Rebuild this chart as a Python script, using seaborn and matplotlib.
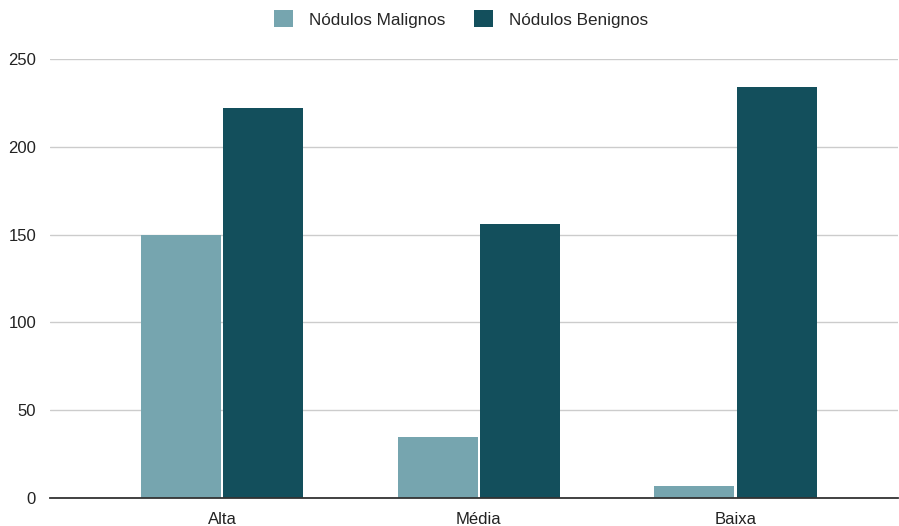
import pandas as pd
import seaborn as sns
import matplotlib.pyplot as plt

# data
categorias = ['Alta', 'Média', 'Baixa']
malignos = [150, 35, 7]
benignos = [222, 156, 234]
series = ['Nódulos Malignos', 'Nódulos Benignos']
cores = ['#76A5AF', '#134F5C']

df = pd.DataFrame({
    'categoria': categorias * 2,
    'valor': malignos + benignos,
    'serie': [series[0]] * len(categorias) + [series[1]] * len(categorias),
})

sns.set_style('white')
plt.rcParams['font.family'] = ['Liberation Sans', 'DejaVu Sans']

fig = plt.figure(figsize=(8.99, 5.26), dpi=100)
ax = fig.add_axes([50 / 899, (526 - 498) / 526, 848 / 899, (498 - 59) / 526])

sns.barplot(data=df, x='categoria', y='valor', hue='serie', palette=cores,
            width=0.64, gap=0.025, saturation=1, ax=ax, linewidth=0)

ax.set_ylim(0, 250)
ax.set_xlim(-0.67, 2.633)
ax.set_yticks([0, 50, 100, 150, 200, 250])
ax.yaxis.grid(True, color='#CCCCCC', linewidth=1)
ax.set_axisbelow(True)
for s in ['top', 'right', 'left']:
    ax.spines[s].set_visible(False)
ax.spines['bottom'].set_color('#333333')
ax.spines['bottom'].set_linewidth(1.3)
ax.tick_params(axis='both', length=0, labelsize=12, colors='#222222')
ax.tick_params(axis='y', pad=10)
ax.tick_params(axis='x', pad=10)
ax.set_xlabel('')
ax.set_ylabel('')

handles, labels = ax.get_legend_handles_labels()
ax.get_legend().remove()
fig.legend(handles, labels, loc='center', bbox_to_anchor=(0.513, 1 - 19 / 526),
           ncol=2, frameon=False, fontsize=12.3, handlelength=1.1, handleheight=1.1,
           handletextpad=0.95, columnspacing=1.7)

fig.savefig('out.png', dpi=100)
